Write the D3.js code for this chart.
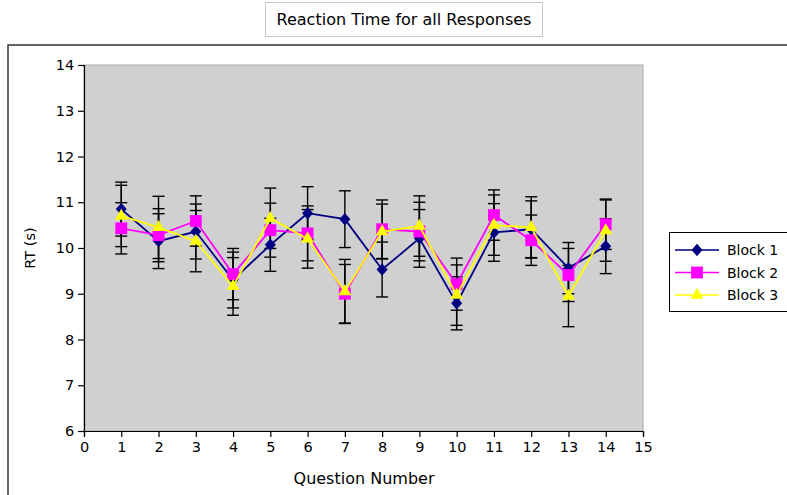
<!DOCTYPE html>
<html>
<head>
<meta charset="utf-8">
<script src="https://cdn.jsdelivr.net/npm/d3@7"></script>
<style>
  body { margin: 0; background: #fff; }
  svg { display: block; font-family: "DejaVu Sans", Verdana, sans-serif; }
</style>
</head>
<body>
<div id="chart"></div>
<script>
'use strict';

var questions = [1, 2, 3, 4, 5, 6, 7, 8, 9, 10, 11, 12, 13, 14];
var seriesNames = ['Block 1', 'Block 2', 'Block 3'];

var block1 = [10.85, 10.15, 10.36, 9.30, 10.07, 10.76, 10.63, 9.53, 10.21, 8.79, 10.34, 10.41, 9.56, 10.04];
var block2 = [10.43, 10.28, 10.59, 9.43, 10.39, 10.32, 9.00, 10.41, 10.36, 9.21, 10.72, 10.17, 9.41, 10.52];
var block3 = [10.70, 10.45, 10.15, 9.16, 10.65, 10.20, 9.05, 10.36, 10.48, 8.97, 10.50, 10.45, 8.95, 10.38];

var err1 = [0.59, 0.60, 0.60, 0.61, 0.58, 0.58, 0.62, 0.60, 0.63, 0.58, 0.63, 0.62, 0.56, 0.60];
var err2 = [0.56, 0.58, 0.55, 0.56, 0.59, 0.60, 0.64, 0.64, 0.64, 0.57, 0.55, 0.55, 0.58, 0.55];
var err3 = [0.67, 0.68, 0.67, 0.63, 0.66, 0.64, 0.70, 0.60, 0.66, 0.66, 0.66, 0.67, 0.67, 0.67];

var xTicks = d3.range(0, 16);
var yTicks = [6, 7, 8, 9, 10, 11, 12, 13, 14];

var colors = ['#000080', '#ff00ff', '#ffff00'];

// marker shapes: a plain diamond, a square and a triangle
var diamond = {
    draw: function (ctx, size) {
        var w = 5.5, h = 6.2;
        ctx.moveTo(0, -h); ctx.lineTo(w, 0); ctx.lineTo(0, h); ctx.lineTo(-w, 0); ctx.closePath();
    }
};
var shapes = [diamond, d3.symbolSquare, d3.symbolTriangle];
var shapeSizes = [1, 140, 70];

var W = 787, H = 495;
var plot = { left: 84, top: 65, right: 643, bottom: 431 };
var font = '"DejaVu Sans", Verdana, sans-serif';

var svg = d3.select('#chart').append('svg')
    .attr('width', W)
    .attr('height', H);

// title box
svg.append('rect')
    .attr('x', 265.5).attr('y', 2.5)
    .attr('width', 277).attr('height', 34)
    .attr('fill', '#fff').attr('stroke', '#c8c8c8');
svg.append('text')
    .attr('x', 404).attr('y', 25)
    .attr('text-anchor', 'middle')
    .attr('font-size', '16px')
    .text('Reaction Time for all Responses');

// outer frame
svg.append('rect')
    .attr('x', 8).attr('y', 45)
    .attr('width', W + 20).attr('height', H)
    .attr('fill', '#fff').attr('stroke', '#333').attr('stroke-width', 1.5);

var x = d3.scaleLinear().domain([0, 15]).range([plot.left, plot.right]);
var y = d3.scaleLinear().domain([6, 14]).range([plot.bottom, plot.top]);

svg.append('rect')
    .attr('x', plot.left).attr('y', plot.top)
    .attr('width', plot.right - plot.left).attr('height', plot.bottom - plot.top)
    .attr('fill', '#d0d0d0').attr('stroke', '#a8a8a8');

var xAxis = svg.append('g')
    .attr('transform', 'translate(0,' + plot.bottom + ')')
    .call(d3.axisBottom(x).tickValues(xTicks).tickFormat(d3.format('d')).tickSizeOuter(0).tickSize(6));
var yAxis = svg.append('g')
    .attr('transform', 'translate(' + plot.left + ',0)')
    .call(d3.axisLeft(y).tickValues(yTicks).tickFormat(d3.format('d')).tickSizeOuter(0).tickSize(6));

[xAxis, yAxis].forEach(function (a) {
    a.selectAll('path, line').attr('stroke', '#000').attr('stroke-width', 1.2);
    a.selectAll('text').attr('font-size', '14.5px').attr('fill', '#000').attr('font-family', font);
});
xAxis.selectAll('text').attr('dy', '0.85em');
yAxis.selectAll('text').attr('dx', '-0.05em');

svg.append('text')
    .attr('x', 364).attr('y', 484)
    .attr('text-anchor', 'middle')
    .attr('font-size', '16px')
    .text('Question Number');
svg.append('text')
    .attr('transform', 'translate(35,' + ((plot.top + plot.bottom) / 2) + ') rotate(-90)')
    .attr('text-anchor', 'middle')
    .attr('font-size', '14.5px')
    .text('RT (s)');

var data = [block1, block2, block3].map(function (vals, s) {
    var errs = [err1, err2, err3][s];
    return vals.map(function (v, i) { return { q: questions[i], v: v, e: errs[i] }; });
});

// error bars
var eb = svg.append('g').attr('stroke', '#000').attr('stroke-width', 1.4);
data.forEach(function (series) {
    series.forEach(function (d) {
        var cx = x(d.q);
        eb.append('line').attr('x1', cx).attr('x2', cx).attr('y1', y(d.v + d.e)).attr('y2', y(d.v - d.e));
        eb.append('line').attr('x1', cx - 6).attr('x2', cx + 6).attr('y1', y(d.v + d.e)).attr('y2', y(d.v + d.e));
        eb.append('line').attr('x1', cx - 6).attr('x2', cx + 6).attr('y1', y(d.v - d.e)).attr('y2', y(d.v - d.e));
    });
});

var line = d3.line().x(function (d) { return x(d.q); }).y(function (d) { return y(d.v); });

data.forEach(function (series, s) {
    svg.append('path')
        .datum(series)
        .attr('d', line)
        .attr('fill', 'none')
        .attr('stroke', colors[s])
        .attr('stroke-width', 1.8);
    svg.selectAll('.m' + s)
        .data(series)
        .enter().append('path')
        .attr('class', 'm' + s)
        .attr('transform', function (d) { return 'translate(' + x(d.q) + ',' + y(d.v) + ')'; })
        .attr('d', d3.symbol().type(shapes[s]).size(shapeSizes[s]))
        .attr('fill', colors[s]);
});

// legend
var lg = svg.append('g');
lg.append('rect')
    .attr('x', 669.5).attr('y', 232.5)
    .attr('width', 130).attr('height', 79)
    .attr('fill', '#fff').attr('stroke', '#000');
seriesNames.forEach(function (name, s) {
    var ly = 250 + s * 22.5;
    lg.append('line')
        .attr('x1', 675).attr('x2', 719).attr('y1', ly).attr('y2', ly)
        .attr('stroke', colors[s]).attr('stroke-width', 1.6);
    lg.append('path')
        .attr('transform', 'translate(697,' + ly + ')')
        .attr('d', d3.symbol().type(shapes[s]).size(shapeSizes[s]))
        .attr('fill', colors[s]);
    lg.append('text')
        .attr('x', 727).attr('y', ly + 5)
        .attr('font-size', '14px')
        .text(name);
});
</script>
</body>
</html>
